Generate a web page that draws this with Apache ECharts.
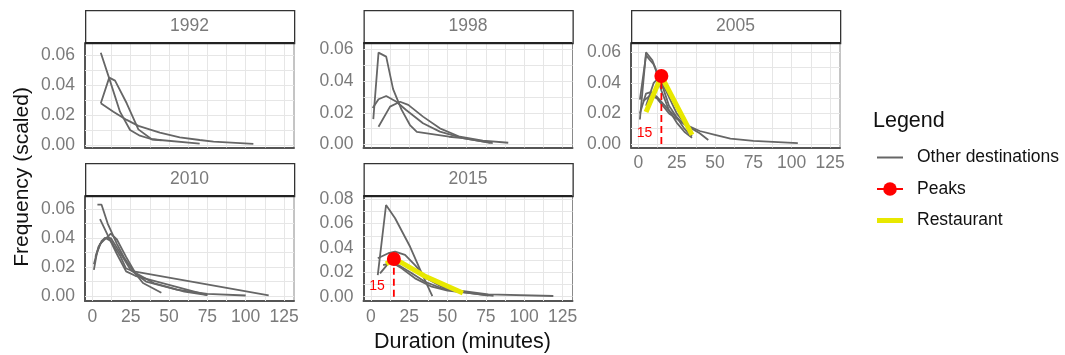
<!DOCTYPE html>
<html>
<head>
<meta charset="utf-8">
<script src="https://cdn.jsdelivr.net/npm/echarts@6/dist/echarts.min.js"></script>
<style>
  html, body { margin: 0; padding: 0; background: #fff; }
  #chart { width: 1065px; height: 355px; }
</style>
</head>
<body>
<div id="chart"></div>
<script>
// Survey years shown as facets
const years = ['1992', '1998', '2005', '2010', '2015'];

// Tick values
const xTicks = [0, 25, 50, 75, 100, 125];
const xMinor = [12.5, 37.5, 62.5, 87.5, 112.5];
const yTicks = [0, 0.02, 0.04, 0.06];
const yMinor = [0.01, 0.03, 0.05];
const yTicks2015 = [0, 0.02, 0.04, 0.06, 0.08];
const yMinor2015 = [0.01, 0.03, 0.05, 0.07];

// Other destinations: [duration in minutes, scaled frequency] per destination
const other1992 = [
  [[5.5, 0.0615], [11, 0.0444], [18, 0.0222], [24.6, 0.010], [31, 0.0062], [38.7, 0.0038], [45, 0.0031]],
  [[5.5, 0.0278], [11, 0.0449], [14.8, 0.0429], [22.4, 0.0278], [30, 0.0104], [38.7, 0.0038], [70, 0.0009]],
  [[5.5, 0.0278], [13.7, 0.0222], [22.4, 0.0167], [30, 0.0127], [44, 0.0082], [57, 0.0051], [70, 0.0033], [79, 0.0022], [105, 0.0007]]
];
const other1998 = [
  [[1.6, 0.016], [5, 0.058], [10, 0.0555], [14.5, 0.035], [20, 0.022], [25.5, 0.0123], [30, 0.008], [51, 0.0049], [60, 0.004], [79.5, 0.0008]],
  [[1.2, 0.023], [5, 0.0286], [10, 0.0306], [16.7, 0.027], [23, 0.0218], [34, 0.0134], [45, 0.0081], [60, 0.004], [78, 0.0011]],
  [[5, 0.0112], [12.5, 0.0239], [19, 0.027], [24.4, 0.025], [34, 0.0176], [45, 0.0102], [58, 0.0049], [73, 0.0024], [89.6, 0.0011]]
];
const other2005 = [
  [[1, 0.016], [5, 0.060], [9, 0.055], [11, 0.050], [15, 0.035], [20, 0.022], [25, 0.014], [30, 0.008], [35, 0.004]],
  [[1, 0.029], [5, 0.058], [10, 0.052], [15, 0.040], [20, 0.025], [30, 0.010], [35, 0.005]],
  [[1, 0.020], [5, 0.033], [8, 0.034], [12, 0.031], [20, 0.022], [30, 0.013], [40, 0.007], [45.6, 0.0026]],
  [[3, 0.028], [8, 0.032], [12, 0.030], [20, 0.020], [30, 0.013], [40, 0.0085], [50, 0.006], [60, 0.0035], [75, 0.002], [104, 0.0005]],
  [[5, 0.025], [10, 0.040], [13, 0.043], [18, 0.035], [25, 0.020], [35, 0.008]]
];
const other2010 = [
  [[3.3, 0.063], [6, 0.063], [10, 0.050], [16, 0.036], [21, 0.026], [27, 0.017], [33, 0.009], [45, 0.0023]],
  [[5, 0.053], [10, 0.042], [16, 0.029], [22, 0.017], [28, 0.014], [75, 0.0007]],
  [[1, 0.018], [3, 0.030], [6, 0.038], [8.5, 0.040], [12, 0.038], [18, 0.028], [22, 0.019], [27, 0.017], [115, 0.0004]],
  [[1, 0.022], [4, 0.034], [8, 0.040], [12, 0.040], [18, 0.030], [25, 0.018], [35, 0.010], [55, 0.0045], [75, 0.0015], [100, 0.0004]],
  [[2, 0.027], [5, 0.036], [9, 0.040], [12, 0.043], [16, 0.039], [22, 0.027], [28, 0.016], [40, 0.009], [60, 0.003], [75, 0.0006]]
];
const other2015 = [
  [[4.5, 0.0178], [9.9, 0.0753], [15.8, 0.0644], [25.6, 0.041], [33.2, 0.0192], [40.1, 0.0006]],
  [[4.5, 0.0316], [11.4, 0.0357], [15.8, 0.037], [22.3, 0.0343], [28.8, 0.026], [36.4, 0.0151], [46.2, 0.0082], [59.3, 0.0047], [76.6, 0.002], [119, 0.0006]],
  [[6, 0.0192], [11.4, 0.0274], [17.9, 0.026], [26.7, 0.0192], [35.3, 0.0123], [46.2, 0.0069], [61.4, 0.0036], [76.6, 0.001]],
  [[8, 0.026], [14, 0.028], [20.1, 0.0233], [28.8, 0.0151], [39.7, 0.0082], [50, 0.005], [65.8, 0.0028], [80, 0.0008]]
];

// Restaurant trips
const restaurant2005 = [[5, 0.021], [15, 0.0445], [35, 0.006]];
const restaurant2015 = [[10, 0.027], [15, 0.031], [20, 0.028], [35, 0.017], [60, 0.003]];

// Restaurant peaks: [duration, frequency]
const peak2005 = [15, 0.0445];
const peak2015 = [15, 0.031];

const FONT = '"Liberation Sans", Arial, Helvetica, sans-serif';
const GRAY_TEXT = '#7a7a7a';
const GRID_COLOR = '#e6e6e6';
const X_RANGE = [-4.8, 131.5];
const TICK_FONT = 17.5;

// Facet layout: box = [left, top, width, height] of the plotting panel
const panels = [
  { year: years[0], other: other1992, rest: null, peak: null, major: yTicks, minor: yMinor,
    box: [85, 43, 209, 104.5], yRange: [-0.0017, 0.068], xLabels: false },
  { year: years[1], other: other1998, rest: null, peak: null, major: yTicks, minor: yMinor,
    box: [363.5, 43, 209, 104.5], yRange: [-0.0019, 0.0641], xLabels: false },
  { year: years[2], other: other2005, rest: restaurant2005, peak: peak2005, major: yTicks, minor: yMinor,
    box: [631, 43, 209, 104.5], yRange: [-0.0023, 0.0661], xLabels: true },
  { year: years[3], other: other2010, rest: null, peak: null, major: yTicks, minor: yMinor,
    box: [85, 196, 209, 105], yRange: [-0.0034, 0.069], xLabels: true },
  { year: years[4], other: other2015, rest: restaurant2015, peak: peak2015, major: yTicks2015, minor: yMinor2015,
    box: [363.5, 196, 209, 105], yRange: [-0.0035, 0.0827], xLabels: true }
];

const grids = [], xAxes = [], yAxes = [], series = [], graphics = [];

panels.forEach((p, i) => {
  const [left, top, width, height] = p.box;
  grids.push({ left, top, width, height, show: true, borderColor: '#8a8a8a', borderWidth: 1, backgroundColor: 'transparent' });

  xAxes.push({
    gridIndex: i, type: 'value', min: X_RANGE[0], max: X_RANGE[1],
    axisLine: { show: true, onZero: false, lineStyle: { color: '#555', width: 2 } },
    axisTick: { show: false, customValues: xTicks },
    splitLine: { show: false },
    axisLabel: { show: p.xLabels, customValues: xTicks, color: GRAY_TEXT, fontSize: TICK_FONT, fontFamily: FONT, margin: 7,
                 formatter: v => String(v) }
  });
  yAxes.push({
    gridIndex: i, type: 'value', min: p.yRange[0], max: p.yRange[1],
    axisLine: { show: true, onZero: false, lineStyle: { color: '#555', width: 2 } },
    axisTick: { show: false, customValues: p.major },
    splitLine: { show: false },
    axisLabel: { customValues: p.major, color: GRAY_TEXT, fontSize: TICK_FONT, fontFamily: FONT, margin: 10,
                 formatter: v => v.toFixed(2) }
  });

  // background grid lines (major and minor) through the panel's own scales
  const gridLines = []
    .concat(p.major, p.minor).map(v => ({ yAxis: v }))
    .concat(xTicks.concat(xMinor).map(v => ({ xAxis: v })));
  series.push({
    type: 'line', xAxisIndex: i, yAxisIndex: i, data: [], silent: true, z: 1,
    markLine: { silent: true, animation: false, z: 1, symbol: ['none', 'none'], label: { show: false },
                lineStyle: { color: GRID_COLOR, width: 1, type: 'solid' }, emphasis: { disabled: true },
                data: gridLines }
  });

  p.other.forEach(line => {
    series.push({
      name: 'Other destinations', type: 'line', xAxisIndex: i, yAxisIndex: i, data: line,
      symbol: 'none', silent: true, z: 3, animation: false,
      lineStyle: { color: '#666', width: 1.8 }, itemStyle: { color: '#666' }
    });
  });

  if (p.rest) {
    series.push({
      name: 'Restaurant', type: 'line', xAxisIndex: i, yAxisIndex: i, data: p.rest,
      symbol: 'none', silent: true, z: 4, animation: false,
      lineStyle: { color: '#e8e800', width: 5, cap: 'butt', join: 'miter' }, itemStyle: { color: '#e8e800' }
    });
  }

  if (p.peak) {
    // dashed drop line from the peak to zero, labelled with the peak duration
    series.push({
      type: 'line', xAxisIndex: i, yAxisIndex: i, silent: true, z: 5, animation: false,
      data: [
        { value: [p.peak[0], 0], symbol: 'circle', symbolSize: 0,
          label: { show: true, position: 'left', distance: 9, offset: [0, -11], color: '#ff0000',
                   fontSize: 14, fontFamily: FONT, formatter: d => String(d.value[0]) } },
        { value: [p.peak[0], p.peak[1]], symbol: 'none' }
      ],
      showSymbol: true,
      lineStyle: { color: '#ff0000', width: 1.8, type: [7, 4] }, itemStyle: { color: '#ff0000' }
    });
    series.push({
      name: 'Peaks', type: 'line', xAxisIndex: i, yAxisIndex: i, data: [p.peak],
      symbol: 'circle', symbolSize: 14, silent: true, z: 6, animation: false,
      lineStyle: { color: '#ff0000', width: 2 }, itemStyle: { color: '#ff0000' }
    });
  }

  // facet strip with the year
  graphics.push({
    type: 'rect', left: left, top: top - 33, z: 10,
    shape: { width: width, height: 33 },
    style: { fill: '#fff', stroke: '#333', lineWidth: 1.3 }
  });
  graphics.push({
    type: 'text', x: left + width / 2, y: top - 16.5, z: 11,
    style: { text: p.year, fill: GRAY_TEXT, font: TICK_FONT + 'px ' + FONT, align: 'center', verticalAlign: 'middle' }
  });
  // darker top edge under the strip
  graphics.push({
    type: 'line', z: 11,
    shape: { x1: left, y1: top, x2: left + width, y2: top },
    style: { stroke: '#222', lineWidth: 2 }
  });
});

// axis titles and legend title
graphics.push({
  type: 'text', x: 462.5, y: 342, z: 11,
  style: { text: 'Duration (minutes)', fill: '#111', font: '21.5px ' + FONT, align: 'center', verticalAlign: 'middle' }
});
graphics.push({
  type: 'text', x: 22, y: 177, rotation: Math.PI / 2, z: 11,
  style: { text: 'Frequency (scaled)', fill: '#111', font: '21px ' + FONT, align: 'center', verticalAlign: 'middle' }
});
graphics.push({
  type: 'text', x: 873, y: 121, z: 11,
  style: { text: 'Legend', fill: '#111', font: '21.5px ' + FONT, align: 'left', verticalAlign: 'middle' }
});

const chart = echarts.init(document.getElementById('chart'));
chart.setOption({
  animation: false,
  backgroundColor: '#fff',
  grid: grids,
  xAxis: xAxes,
  yAxis: yAxes,
  series: series,
  graphic: graphics,
  legend: {
    orient: 'vertical', left: 871, top: 143.5, itemWidth: 26, itemHeight: 17, itemGap: 13.5,
    selectedMode: false,
    textStyle: { fontSize: TICK_FONT, color: '#111', fontFamily: FONT, padding: [0, 0, 0, 9] },
    lineStyle: { type: 'solid' },
    data: [
      { name: 'Other destinations', icon: 'path://M0,0h26v2h-26z' },
      { name: 'Peaks' },
      { name: 'Restaurant', icon: 'path://M0,0h26v5h-26z' }
    ]
  }
});
</script>
</body>
</html>
